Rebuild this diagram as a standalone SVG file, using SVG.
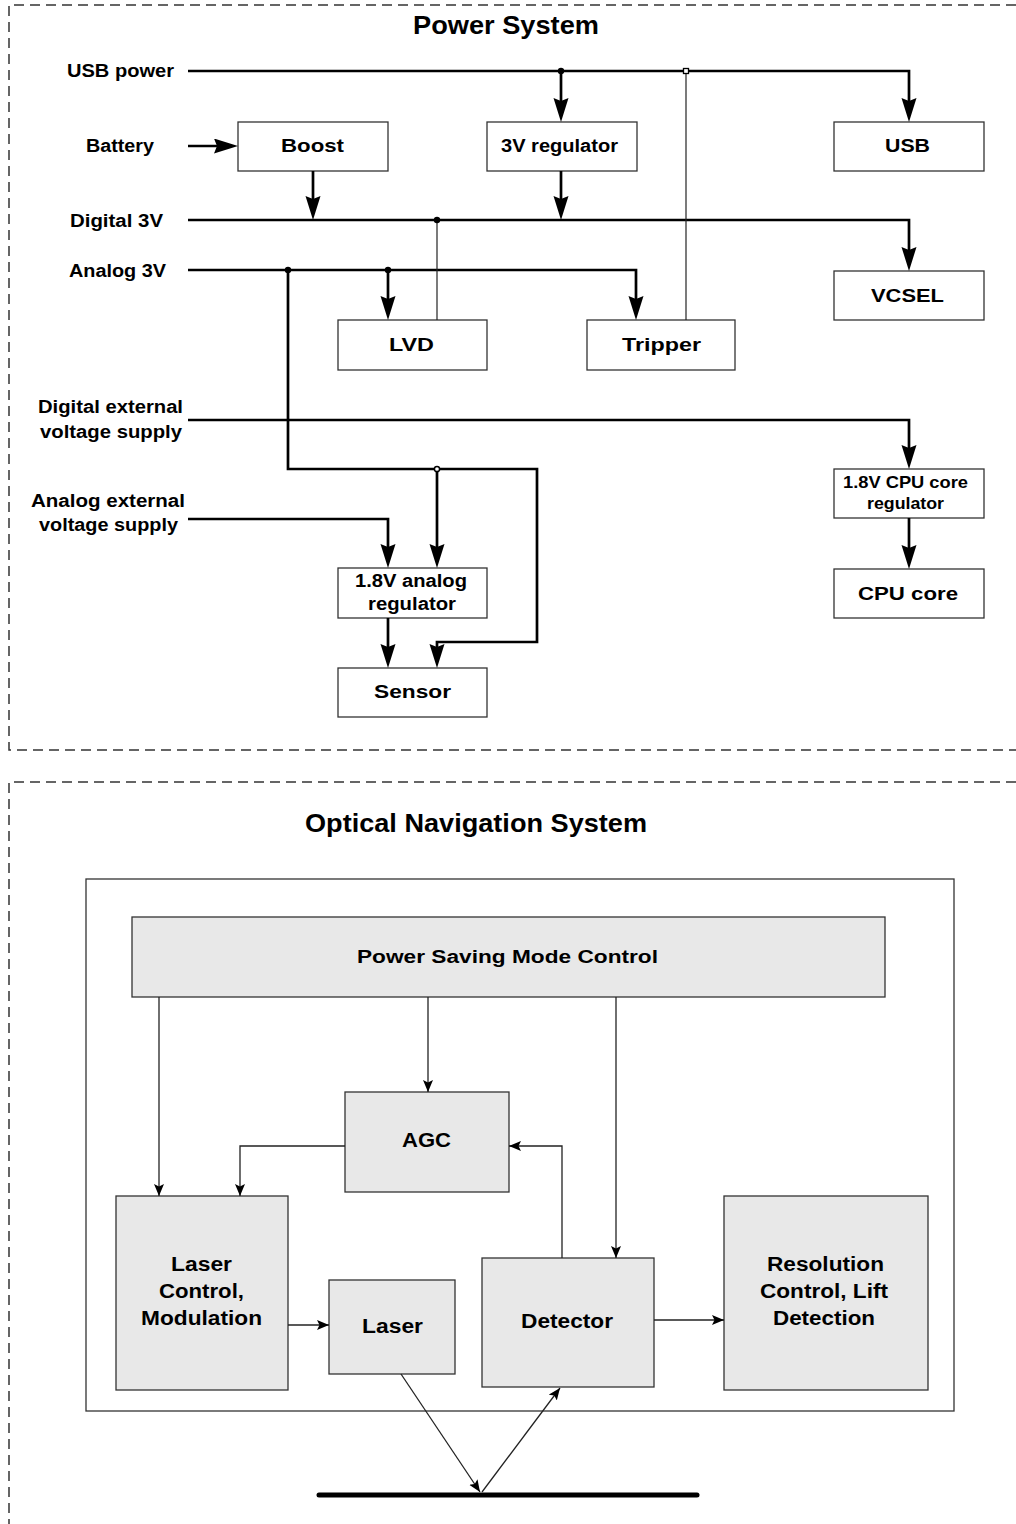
<svg xmlns="http://www.w3.org/2000/svg" width="1016" height="1524" viewBox="0 0 1016 1524">
  <style>
    text { font-family: "Liberation Sans", Arial, sans-serif; font-weight: bold; fill: #000; }
    .title { font-size: 25px; }
    .lbl { font-size: 18px; }
    .sm { font-size: 16.5px; }
    .big { font-size: 20px; }
    .box { fill: #fff; stroke: #333; stroke-width: 1.3; }
    .gbox { fill: #e8e8e8; stroke: #333; stroke-width: 1.3; }
    .frame { fill: none; stroke: #333; stroke-width: 1.5; stroke-dasharray: 10 6; }
    .bus { fill: none; stroke: #000; stroke-width: 2.7; }
    .thin { fill: none; stroke: #222; stroke-width: 1.2; }
    .sig { fill: none; stroke: #222; stroke-width: 1.3; }
  </style>
  <defs>
    <marker id="big" markerUnits="userSpaceOnUse" markerWidth="26" markerHeight="16" refX="14" refY="7.5" orient="auto">
      <path d="M0,0 L24,7.5 L0,15 L3,7.5 z" fill="#000"/>
    </marker>
    <marker id="small" markerUnits="userSpaceOnUse" markerWidth="14" markerHeight="12" refX="12" refY="5" orient="auto">
      <path d="M0,0 L12,5 L0,10 L2.5,5 z" fill="#000"/>
    </marker>
  </defs>

  <rect width="1016" height="1524" fill="#fff"/>

  <!-- section frames -->
  <g id="power-frame">
    <path class="frame" d="M1016,5 H9 V750 H1016"/>
    <text class="title" x="413" y="34" textLength="186" lengthAdjust="spacingAndGlyphs">Power System</text>
  </g>
  <g id="optical-frame">
    <path class="frame" d="M1016,782 H9 V1524"/>
    <text class="title" x="305" y="832" textLength="342" lengthAdjust="spacingAndGlyphs">Optical Navigation System</text>
    <rect x="86" y="879" width="868" height="532" fill="none" stroke="#333" stroke-width="1.3"/>
  </g>

  <!-- rail labels -->
  <g id="rail-labels">
    <text class="lbl" x="67" y="77" textLength="107" lengthAdjust="spacingAndGlyphs">USB power</text>
    <text class="lbl" x="86" y="152" textLength="68" lengthAdjust="spacingAndGlyphs">Battery</text>
    <text class="lbl" x="70" y="227" textLength="93" lengthAdjust="spacingAndGlyphs">Digital 3V</text>
    <text class="lbl" x="69" y="277" textLength="97" lengthAdjust="spacingAndGlyphs">Analog 3V</text>
    <text class="lbl" x="38" y="413" textLength="145" lengthAdjust="spacingAndGlyphs">Digital external</text>
    <text class="lbl" x="40" y="438" textLength="142" lengthAdjust="spacingAndGlyphs">voltage supply</text>
    <text class="lbl" x="31" y="507" textLength="154" lengthAdjust="spacingAndGlyphs">Analog external</text>
    <text class="lbl" x="39" y="531" textLength="139" lengthAdjust="spacingAndGlyphs">voltage supply</text>
  </g>

  <!-- power system blocks -->
  <g id="boost"><rect class="box" x="238" y="122" width="150" height="49"/>
    <text class="lbl" x="281" y="152" textLength="63" lengthAdjust="spacingAndGlyphs">Boost</text></g>
  <g id="reg3v"><rect class="box" x="487" y="122" width="150" height="49"/>
    <text class="lbl" x="501" y="152" textLength="117" lengthAdjust="spacingAndGlyphs">3V regulator</text></g>
  <g id="usb"><rect class="box" x="834" y="122" width="150" height="49"/>
    <text class="lbl" x="885" y="152" textLength="45" lengthAdjust="spacingAndGlyphs">USB</text></g>
  <g id="vcsel"><rect class="box" x="834" y="271" width="150" height="49"/>
    <text class="lbl" x="871" y="302" textLength="73" lengthAdjust="spacingAndGlyphs">VCSEL</text></g>
  <g id="lvd"><rect class="box" x="338" y="320" width="149" height="50"/>
    <text class="lbl" x="389" y="351" textLength="45" lengthAdjust="spacingAndGlyphs">LVD</text></g>
  <g id="tripper"><rect class="box" x="587" y="320" width="148" height="50"/>
    <text class="lbl" x="622" y="351" textLength="79" lengthAdjust="spacingAndGlyphs">Tripper</text></g>
  <g id="cpu-reg"><rect class="box" x="834" y="469" width="150" height="49"/>
    <text class="sm" x="843" y="488" textLength="125" lengthAdjust="spacingAndGlyphs">1.8V CPU core</text>
    <text class="sm" x="867" y="509" textLength="77" lengthAdjust="spacingAndGlyphs">regulator</text></g>
  <g id="cpu-core"><rect class="box" x="834" y="569" width="150" height="49"/>
    <text class="lbl" x="858" y="600" textLength="100" lengthAdjust="spacingAndGlyphs">CPU core</text></g>
  <g id="analog-reg"><rect class="box" x="338" y="568" width="149" height="50"/>
    <text class="lbl" x="355" y="587" textLength="112" lengthAdjust="spacingAndGlyphs">1.8V analog</text>
    <text class="lbl" x="368" y="610" textLength="88" lengthAdjust="spacingAndGlyphs">regulator</text></g>
  <g id="sensor"><rect class="box" x="338" y="668" width="149" height="49"/>
    <text class="lbl" x="374" y="698" textLength="77" lengthAdjust="spacingAndGlyphs">Sensor</text></g>

  <!-- optical navigation blocks -->
  <g id="psmc"><rect class="gbox" x="132" y="917" width="753" height="80"/>
    <text class="lbl" x="357" y="963" textLength="301" lengthAdjust="spacingAndGlyphs">Power Saving Mode Control</text></g>
  <g id="agc"><rect class="gbox" x="345" y="1092" width="164" height="100"/>
    <text class="big" x="402" y="1147" textLength="49" lengthAdjust="spacingAndGlyphs">AGC</text></g>
  <g id="laser-ctrl"><rect class="gbox" x="116" y="1196" width="172" height="194"/>
    <text class="big" x="171" y="1271" textLength="61" lengthAdjust="spacingAndGlyphs">Laser</text>
    <text class="big" x="159" y="1298" textLength="85" lengthAdjust="spacingAndGlyphs">Control,</text>
    <text class="big" x="141" y="1325" textLength="121" lengthAdjust="spacingAndGlyphs">Modulation</text></g>
  <g id="laser"><rect class="gbox" x="329" y="1280" width="126" height="94"/>
    <text class="big" x="362" y="1333" textLength="61" lengthAdjust="spacingAndGlyphs">Laser</text></g>
  <g id="detector"><rect class="gbox" x="482" y="1258" width="172" height="129"/>
    <text class="big" x="521" y="1328" textLength="92" lengthAdjust="spacingAndGlyphs">Detector</text></g>
  <g id="resolution"><rect class="gbox" x="724" y="1196" width="204" height="194"/>
    <text class="big" x="767" y="1271" textLength="117" lengthAdjust="spacingAndGlyphs">Resolution</text>
    <text class="big" x="760" y="1298" textLength="128" lengthAdjust="spacingAndGlyphs">Control, Lift</text>
    <text class="big" x="773" y="1325" textLength="102" lengthAdjust="spacingAndGlyphs">Detection</text></g>
  <g id="surface">
    <line x1="319" y1="1495" x2="697" y2="1495" stroke="#000" stroke-width="5" stroke-linecap="round"/>
  </g>

  <!-- connectors -->
  <g id="connectors">
    <!-- power rails -->
    <path class="bus" d="M188,71 H909 V112" marker-end="url(#big)"/>
    <path class="bus" d="M561,71 V112" marker-end="url(#big)"/>
    <path class="bus" d="M188,146 H228" marker-end="url(#big)"/>
    <path class="bus" d="M313,171 V210" marker-end="url(#big)"/>
    <path class="bus" d="M561,171 V210" marker-end="url(#big)"/>
    <path class="bus" d="M188,220 H909 V261" marker-end="url(#big)"/>
    <path class="bus" d="M188,270 H636 V310" marker-end="url(#big)"/>
    <path class="bus" d="M388,270 V310" marker-end="url(#big)"/>
    <path class="bus" d="M288,270 V469 H537 V642 H437 V658" marker-end="url(#big)"/>
    <path class="bus" d="M437,469 V558" marker-end="url(#big)"/>
    <path class="bus" d="M188,519 H388 V558" marker-end="url(#big)"/>
    <path class="bus" d="M388,618 V658" marker-end="url(#big)"/>
    <path class="bus" d="M188,420 H909 V459" marker-end="url(#big)"/>
    <path class="bus" d="M909,518 V559" marker-end="url(#big)"/>
    <path class="thin" d="M437,220 V320"/>
    <path class="thin" d="M686,71 V320"/>
    <!-- junctions -->
    <circle cx="561" cy="71" r="3.2" fill="#000"/>
    <circle cx="437" cy="220" r="3.2" fill="#000"/>
    <circle cx="288" cy="270" r="3.2" fill="#000"/>
    <circle cx="388" cy="270" r="3.2" fill="#000"/>
    <rect x="683.5" y="68.5" width="5" height="5" fill="#fff" stroke="#000" stroke-width="1.3"/>
    <circle cx="437" cy="469" r="2.6" fill="#fff" stroke="#000" stroke-width="1.5"/>

    <!-- optical navigation signals -->
    <path class="sig" d="M159,997 V1196" marker-end="url(#small)"/>
    <path class="sig" d="M428,997 V1092" marker-end="url(#small)"/>
    <path class="sig" d="M616,997 V1258" marker-end="url(#small)"/>
    <path class="sig" d="M345,1146 H240 V1196" marker-end="url(#small)"/>
    <path class="sig" d="M562,1258 V1146 H509" marker-end="url(#small)"/>
    <path class="sig" d="M288,1325 H329" marker-end="url(#small)"/>
    <path class="sig" d="M654,1320 H724" marker-end="url(#small)"/>
    <path class="sig" d="M401,1374 L480,1492" marker-end="url(#small)"/>
    <path class="sig" d="M482,1492 L560,1388" marker-end="url(#small)"/>
  </g>
</svg>
